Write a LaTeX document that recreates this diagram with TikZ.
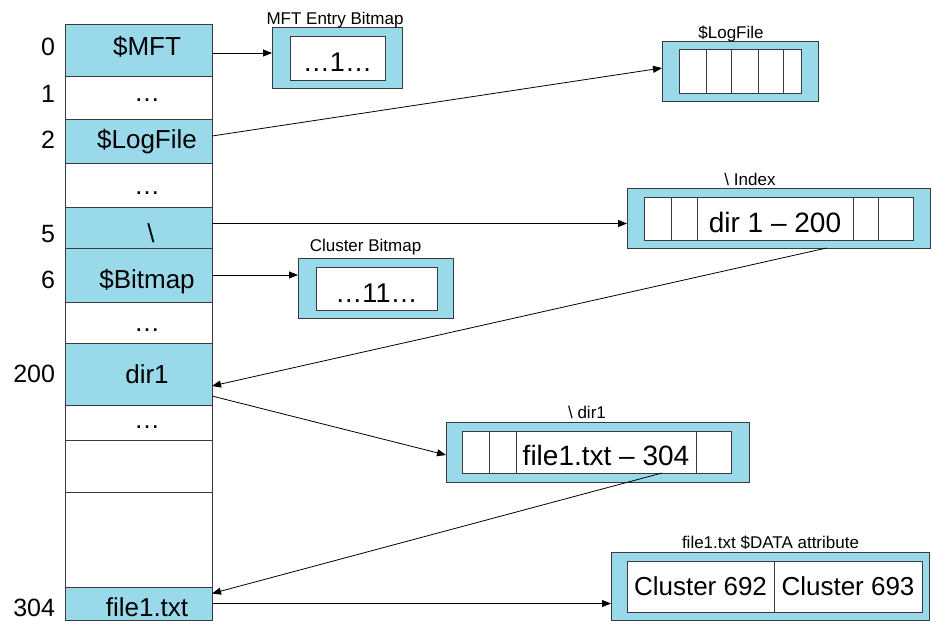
\documentclass[tikz,border=0pt]{standalone}
\usepackage{fontspec}
\setmainfont{Liberation Sans}
\usetikzlibrary{arrows.meta}

\definecolor{entryblue}{HTML}{99D9EA}
\definecolor{edge}{HTML}{3A3A3A}

\begin{document}
\begin{tikzpicture}[x=1pt, y=-1pt, every node/.style={inner sep=0pt, outer sep=0pt}]

\tikzstyle{row}=[draw=edge, line width=1pt, minimum width=147pt]
\tikzstyle{used}=[row, fill=entryblue]
\tikzstyle{rowtext}=[anchor=base, font=\fontsize{26}{30}\selectfont]
\tikzstyle{num}=[anchor=base east, font=\fontsize{25}{30}\selectfont]
\tikzstyle{frame}=[draw=edge, line width=1pt, fill=entryblue]
\tikzstyle{cell}=[draw=edge, line width=1pt, fill=white, text height=26pt, text depth=0pt, font=\fontsize{27}{32}\selectfont]
\tikzstyle{title}=[anchor=base, font=\fontsize{17}{20}\selectfont]
\tikzstyle{arr}=[draw=black, line width=0.8pt, -{Triangle[length=9pt, width=7pt]}]

\useasboundingbox (0,0) rectangle (932,624);

% MFT entries
\node (r0)  [used, minimum height=52pt] at (138.5, 50) {};
\node (r1)  [row,  minimum height=43pt] at (138.5, 97.5) {};
\node (r2)  [used, minimum height=44pt] at (138.5, 141) {};
\node (r3)  [row,  minimum height=44pt] at (138.5, 185) {};
\node (r4)  [used, minimum height=41pt] at (138.5, 227.5) {};
\node (r5)  [used, minimum height=54pt] at (138.5, 275) {};
\node (r6)  [row,  minimum height=41pt] at (138.5, 322.5) {};
\node (r7)  [used, minimum height=62pt] at (138.5, 374) {};
\node (r8)  [row,  minimum height=35pt] at (138.5, 422.5) {};
\node (r9)  [row,  minimum height=52pt] at (138.5, 466) {};
\node (r10) [row,  minimum height=95pt] at (138.5, 539.5) {};
\node (r11) [used, minimum height=33pt] at (138.5, 603.5) {};

\node (t0)  [rowtext] at (147, 55) {\$MFT};
\node (t1)  [rowtext] at (147, 101) {…};
\node (t2)  [rowtext] at (147, 148) {\$LogFile};
\node (t3)  [rowtext] at (147, 194) {…};
\node (t4)  [rowtext] at (151, 242) {\textbackslash};
\node (t5)  [rowtext] at (147, 288) {\$Bitmap};
\node (t6)  [rowtext] at (147, 331) {…};
\node (t7)  [rowtext] at (147, 383) {dir1};
\node (t8)  [rowtext] at (147, 428) {…};
\node (t11) [rowtext] at (147, 616) {file1.txt};

\node (n0)  [num] at (55, 55) {0};
\node (n1)  [num] at (55, 102) {1};
\node (n2)  [num] at (55, 148) {2};
\node (n4)  [num] at (55, 242) {5};
\node (n5)  [num] at (55, 288) {6};
\node (n7)  [num] at (55, 382) {200};
\node (n11) [num] at (55, 616) {304};

% MFT entry bitmap
\node (mb)  [frame, minimum width=130pt, minimum height=61pt] at (337, 57.5) {};
\node (mb1) [cell, minimum width=95pt, minimum height=44pt] at (337.5, 58) {…1…};
\node (mbt) [title] at (335, 24) {MFT Entry Bitmap};

% $LogFile
\node (lf)  [frame, minimum width=156pt, minimum height=60pt] at (740, 71) {};
\node (lf1) [cell, minimum width=27pt, minimum height=44pt] at (692.5, 71) {};
\node (lf2) [cell, minimum width=25pt, minimum height=44pt] at (718.5, 71) {};
\node (lf3) [cell, minimum width=27pt, minimum height=44pt] at (744.5, 71) {};
\node (lf4) [cell, minimum width=25pt, minimum height=44pt] at (770.5, 71) {};
\node (lf5) [cell, minimum width=18pt, minimum height=44pt] at (792, 71) {};
\node (lft) [title] at (731, 38) {\$LogFile};

% \ Index
\node (ix)  [frame, minimum width=303pt, minimum height=60pt] at (778.5, 218) {};
\node (ix1) [cell, minimum width=27pt, minimum height=43pt] at (657.5, 218.5) {};
\node (ix2) [cell, minimum width=26pt, minimum height=43pt] at (684, 218.5) {};
\node (ix3) [cell, minimum width=156pt, minimum height=43pt, text height=27pt,
             font=\fontsize{28}{32}\selectfont] at (775, 218.5) {dir 1 – 200};
\node (ix4) [cell, minimum width=25pt, minimum height=43pt] at (865.5, 218.5) {};
\node (ix5) [cell, minimum width=35pt, minimum height=43pt] at (895.5, 218.5) {};
\node (ixt) [title] at (750, 185) {\textbackslash{} Index};

% cluster bitmap
\node (cb)  [frame, minimum width=155pt, minimum height=60pt] at (375.5, 288) {};
\node (cb1) [cell, minimum width=121pt, minimum height=43pt, text height=27pt] at (376.5, 288.5) {…11…};
\node (cbt) [title] at (365.5, 251) {Cluster Bitmap};

% \ dir1
\node (dd)  [frame, minimum width=303pt, minimum height=60pt] at (597.5, 452) {};
\node (dd1) [cell, minimum width=27pt, minimum height=42pt] at (475.5, 452) {};
\node (dd2) [cell, minimum width=27pt, minimum height=42pt] at (502.5, 452) {};
\node (dd3) [cell, minimum width=180pt, minimum height=42pt,
             font=\fontsize{28}{32}\selectfont] at (606, 452) {file1.txt – 304};
\node (dd4) [cell, minimum width=35pt, minimum height=42pt] at (713.5, 452) {};
\node (ddt) [title] at (587, 418) {\textbackslash{} dir1};

% $DATA attribute
\node (da)  [frame, minimum width=318pt, minimum height=68pt] at (770, 586) {};
\node (da1) [cell, minimum width=147pt, minimum height=51pt, text height=17pt,
             font=\fontsize{26}{30}\selectfont] at (700.5, 586.5) {Cluster 692};
\node (da2) [cell, minimum width=148pt, minimum height=51pt, text height=17pt,
             font=\fontsize{26}{30}\selectfont] at (848, 586.5) {Cluster 693};
\node (dat) [title] at (770.5, 548) {file1.txt \$DATA attribute};

% pointers
\coordinate (s0) at ([yshift=-3pt]r0.east);
\coordinate (s4) at ([yshift=4pt]r4.east);

\path [arr] (s0) -- (s0 -| mb.west);
\path [arr] ([yshift=5pt]r2.east) -- ([yshift=3pt]lf.west);
\path [arr] (s4) -- (s4 -| ix.west);
\path [arr] ([xshift=48pt]ix.south) -- ([yshift=-12pt]r7.east);
\path [arr] (r5.east) -- (r5.east -| cb.west);
\path [arr] ([yshift=-22pt]r7.east) -- ([yshift=-3pt]dd.west);
\path [arr] ([xshift=56pt]dd3.south) -- ([yshift=10pt]r11.east);
\path [arr] (r11.east) -- (r11.east -| da.west);

\end{tikzpicture}
\end{document}
